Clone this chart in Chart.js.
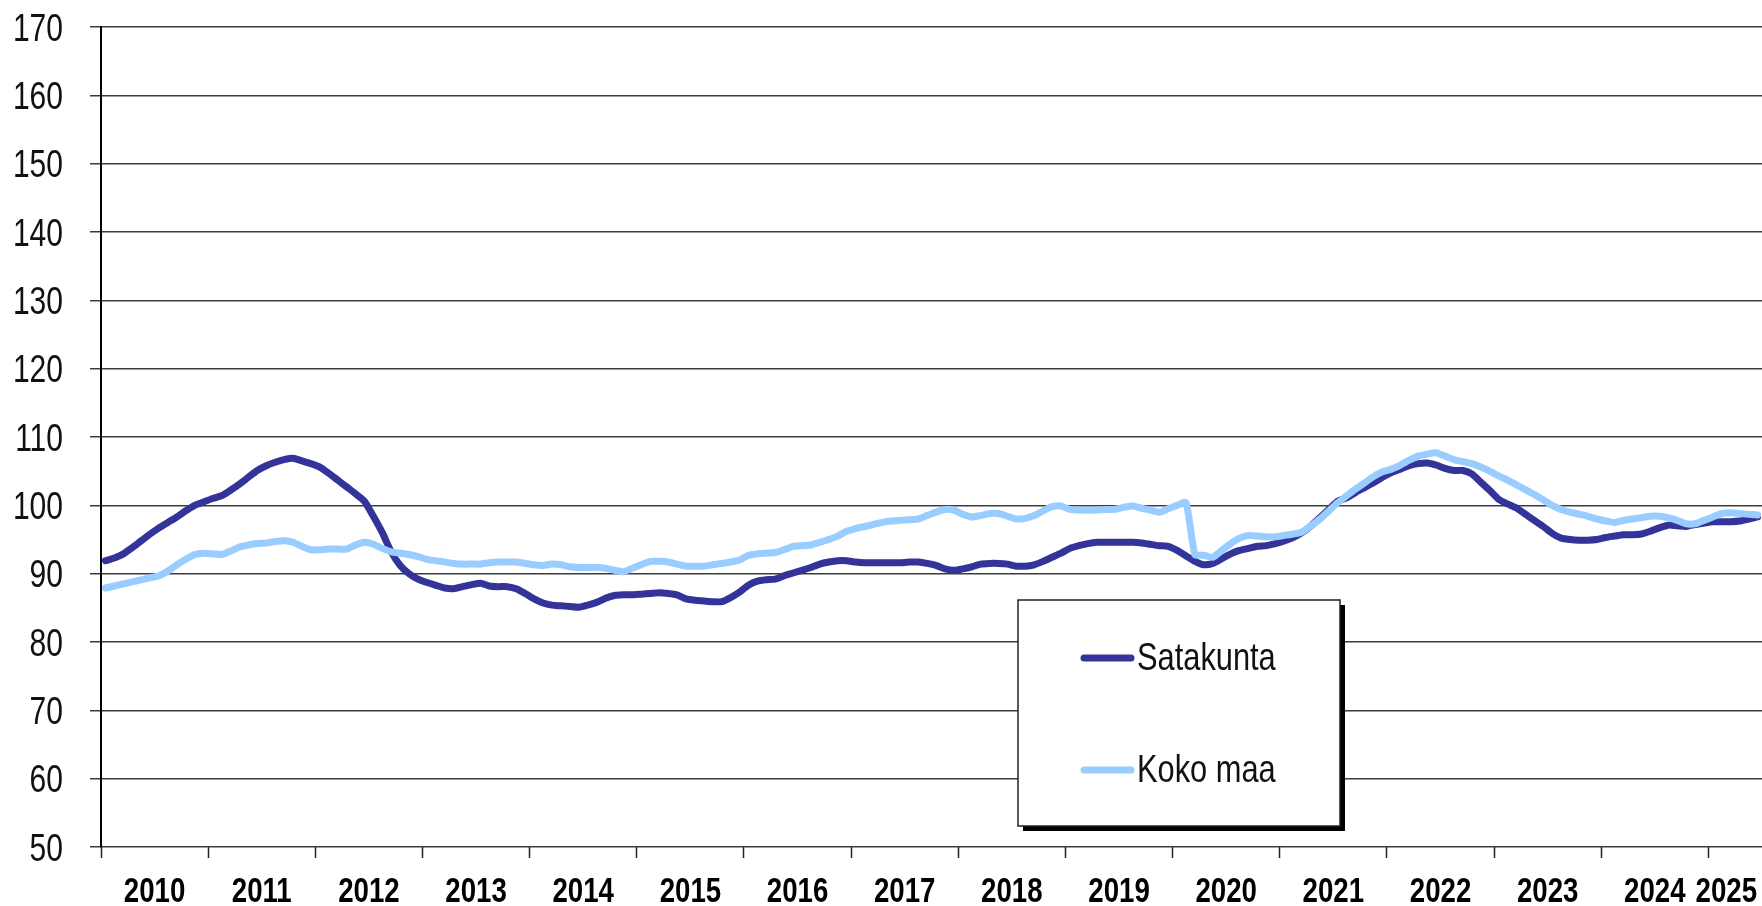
<!DOCTYPE html>
<html>
<head>
<meta charset="utf-8">
<script src="https://cdn.jsdelivr.net/npm/chart.js@4/dist/chart.umd.min.js"></script>
<style>
  html, body { margin: 0; padding: 0; background: #fff; }
  canvas { display: block; }
</style>
</head>
<body>
<canvas id="trendChart" width="1762" height="906"></canvas>
<script>
// monthly trend index, Jan 2010 .. Jun 2025
const years = ["2010", "2011", "2012", "2013", "2014", "2015", "2016", "2017",
  "2018", "2019", "2020", "2021", "2022", "2023", "2024", "2025"];

const satakunta = [
  91.9, 92.3, 92.9, 93.8, 94.8, 95.8, 96.7, 97.5, 98.3, 99.2, 100.0, 100.5,
  101.0, 101.4, 102.2, 103.1, 104.1, 105.1, 105.8, 106.3, 106.7, 106.9, 106.5, 106.1,
  105.6, 104.7, 103.7, 102.7, 101.7, 100.6, 98.4, 96.0, 93.2, 91.2, 90.0, 89.2,
  88.7, 88.3, 87.9, 87.8, 88.1, 88.4, 88.6, 88.2, 88.1, 88.1, 87.8, 87.1,
  86.3, 85.7, 85.4, 85.3, 85.2, 85.1, 85.4, 85.8, 86.4, 86.8, 86.9, 86.9,
  87.0, 87.1, 87.2, 87.1, 86.9, 86.3, 86.1, 86.0, 85.9, 85.9, 86.5, 87.3,
  88.3, 88.9, 89.1, 89.2, 89.7, 90.1, 90.5, 90.9, 91.4, 91.7, 91.9, 91.9,
  91.7, 91.6, 91.6, 91.6, 91.6, 91.6, 91.7, 91.7, 91.5, 91.2, 90.7, 90.5,
  90.7, 91.0, 91.4, 91.5, 91.5, 91.4, 91.1, 91.1, 91.3, 91.8, 92.4, 93.0,
  93.7, 94.1, 94.4, 94.6, 94.6, 94.6, 94.6, 94.6, 94.5, 94.3, 94.1, 94.0,
  93.4, 92.6, 91.8, 91.3, 91.5, 92.2, 92.9, 93.4, 93.7, 94.0, 94.1, 94.4,
  94.8, 95.3, 96.0, 97.0, 98.2, 99.4, 100.6, 101.1, 101.9, 102.6, 103.3, 104.1,
  104.8, 105.3, 105.8, 106.1, 106.2, 105.9, 105.4, 105.1, 105.1, 104.6, 103.4, 102.2,
  100.9, 100.2, 99.6, 98.7, 97.8, 96.9, 95.9, 95.2, 95.0, 94.9, 94.9, 95.0,
  95.3, 95.5, 95.7, 95.7, 95.8, 96.2, 96.7, 97.1, 97.0, 96.9, 97.2, 97.4,
  97.6, 97.6, 97.6, 97.7, 98.0, 98.3
];

const kokoMaa = [
  87.9, 88.2, 88.5, 88.8, 89.1, 89.4, 89.7, 90.4, 91.3, 92.1, 92.8, 93.0,
  92.9, 92.8, 93.3, 93.9, 94.2, 94.4, 94.5, 94.7, 94.8, 94.6, 94.0, 93.5,
  93.5, 93.6, 93.6, 93.6, 94.2, 94.6, 94.3, 93.7, 93.2, 93.0, 92.8, 92.5,
  92.1, 91.9, 91.7, 91.5, 91.4, 91.4, 91.4, 91.6, 91.7, 91.7, 91.7, 91.5,
  91.3, 91.2, 91.4, 91.3, 91.0, 90.9, 90.9, 90.9, 90.8, 90.5, 90.3, 90.8,
  91.3, 91.8, 91.8, 91.7, 91.4, 91.1, 91.1, 91.1, 91.3, 91.5, 91.7, 92.0,
  92.7, 92.9, 93.0, 93.1, 93.5, 94.0, 94.1, 94.2, 94.6, 95.0, 95.5, 96.2,
  96.6, 96.9, 97.2, 97.5, 97.7, 97.8, 97.9, 98.0, 98.5, 99.0, 99.4, 99.3,
  98.7, 98.3, 98.5, 98.8, 98.8, 98.4, 98.0, 98.1, 98.5, 99.2, 99.8, 99.9,
  99.4, 99.3, 99.3, 99.3, 99.4, 99.4, 99.7, 99.9, 99.6, 99.3, 99.0, 99.5,
  100.0, 100.4, 92.8, 92.7, 92.4, 93.4, 94.4, 95.2, 95.6, 95.5, 95.4, 95.4,
  95.6, 95.8, 96.1, 97.0, 98.0, 99.2, 100.4, 101.4, 102.4, 103.3, 104.2, 104.9,
  105.3, 105.9, 106.6, 107.2, 107.5, 107.7, 107.2, 106.7, 106.4, 106.1, 105.6, 105.0,
  104.3, 103.7, 103.0, 102.3, 101.6, 100.8, 100.0, 99.4, 99.0, 98.7, 98.4, 98.0,
  97.7, 97.5, 97.8, 98.0, 98.2, 98.4, 98.4, 98.2, 97.8, 97.3, 97.3, 97.8,
  98.3, 98.8, 98.9, 98.8, 98.7, 98.6
];

const seriesNames = ["Satakunta", "Koko maa"];
const seriesColors = ["#333399", "#99ccff"];

const family = '"Liberation Sans", Arial, sans-serif';
const squeeze = 0.79; // the lettering is set narrow

const nMonths = satakunta.length;
const toPoints = arr => arr.map((v, i) => ({ x: i, y: v }));

// tick marks sit on year boundaries, year labels in the middle of each year
const boundaryTicks = [];
const labelTicks = {};
for (let k = 0; k < years.length; k++) {
  boundaryTicks.push(k * 12 - 0.5);
  labelTicks[Math.min(k * 12 + 5.5, nMonths - 4.5)] = years[k];
}

function narrowText(ctx, text, x, y) {
  ctx.save();
  ctx.translate(x, y);
  ctx.scale(squeeze, 1);
  ctx.fillText(text, 0, 0);
  ctx.restore();
}

const axisText = {
  id: "axisText",
  afterDraw(chart) {
    const ctx = chart.ctx;
    const xs = chart.scales.x, ys = chart.scales.y;
    ctx.save();
    ctx.fillStyle = "#111";
    ctx.textBaseline = "alphabetic";
    ctx.textAlign = "right";
    ctx.font = `38px ${family}`;
    ys.ticks.forEach(t => narrowText(ctx, String(t.value), 63, ys.getPixelForValue(t.value) + 13.6));
    ctx.fillStyle = "#000";
    ctx.textAlign = "center";
    ctx.font = `bold 35px ${family}`;
    Object.keys(labelTicks).forEach(v => narrowText(ctx, labelTicks[v], xs.getPixelForValue(Number(v)), 902));
    ctx.restore();
  }
};

const legendBox = {
  id: "legendBox",
  afterDatasetsDraw(chart) {
    const ctx = chart.ctx;
    const x = 1018, y = 600, w = 322, h = 226;
    ctx.save();
    ctx.fillStyle = "#000";
    ctx.fillRect(x + 5, y + 5, w, h);
    ctx.fillStyle = "#fff";
    ctx.fillRect(x, y, w, h);
    ctx.strokeStyle = "#222";
    ctx.lineWidth = 1.5;
    ctx.strokeRect(x, y, w, h);
    const rows = { "Satakunta": 658, "Koko maa": 770 };
    ctx.font = `39px ${family}`;
    ctx.textBaseline = "alphabetic";
    ctx.textAlign = "left";
    chart.data.datasets.forEach(ds => {
      const ry = rows[ds.label];
      ctx.strokeStyle = ds.borderColor;
      ctx.lineWidth = 7;
      ctx.lineCap = "round";
      ctx.beginPath();
      ctx.moveTo(1084, ry);
      ctx.lineTo(1131, ry);
      ctx.stroke();
      ctx.fillStyle = "#111";
      narrowText(ctx, ds.label, 1137, ry + 11.5);
    });
    ctx.restore();
  }
};

new Chart(document.getElementById("trendChart"), {
  type: "line",
  data: {
    datasets: [
      {
        label: seriesNames[0],
        data: toPoints(satakunta),
        borderColor: seriesColors[0],
        borderWidth: 7,
        pointRadius: 0,
        tension: 0.2,
        borderCapStyle: "round",
        borderJoinStyle: "round",
        order: 1
      },
      {
        label: seriesNames[1],
        data: toPoints(kokoMaa),
        borderColor: seriesColors[1],
        borderWidth: 7,
        pointRadius: 0,
        tension: 0.2,
        borderCapStyle: "round",
        borderJoinStyle: "round",
        order: 0
      }
    ]
  },
  options: {
    responsive: false,
    animation: false,
    layout: { padding: { top: 27, right: 0, left: 0, bottom: 0 } },
    plugins: { legend: { display: false }, tooltip: { enabled: false } },
    scales: {
      x: {
        type: "linear",
        min: -0.5,
        max: nMonths - 0.5,
        afterBuildTicks: scale => {
          scale.ticks = boundaryTicks.map(v => ({ value: v }));
        },
        afterFit: scale => {
          scale.height = 59;
          scale.paddingLeft = 0;
          scale.paddingRight = 0;
        },
        ticks: { display: false, autoSkip: false, padding: 0 },
        grid: {
          drawOnChartArea: false,
          tickLength: 11,
          tickWidth: 1.5,
          tickColor: "#222"
        },
        border: { display: false }
      },
      y: {
        min: 50,
        max: 170,
        afterFit: scale => {
          scale.width = 101;
          scale.paddingTop = 0;
          scale.paddingBottom = 0;
        },
        ticks: { display: false, stepSize: 10, padding: 0 },
        grid: {
          color: "#3c3c3c",
          lineWidth: 1.5,
          tickLength: 11
        },
        border: { color: "#000", width: 2 }
      }
    }
  },
  plugins: [legendBox, axisText]
});
</script>
</body>
</html>
